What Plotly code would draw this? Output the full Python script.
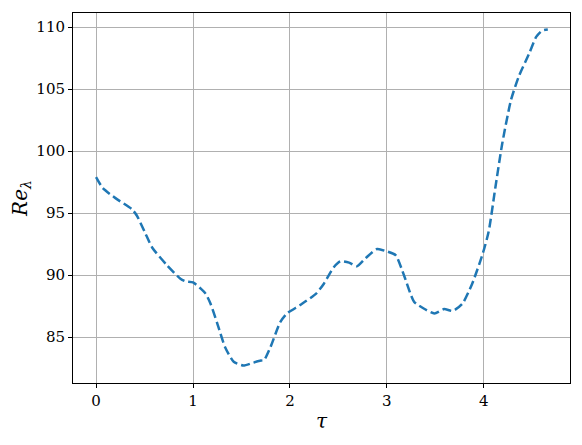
import plotly.graph_objects as go

tau = [0.00, 0.07, 0.20, 0.37, 0.42, 0.50, 0.58, 0.73, 0.87, 0.92, 1.00, 1.08, 1.13, 1.18,
       1.25, 1.33, 1.42, 1.52, 1.61, 1.70, 1.73, 1.80, 1.90, 1.97, 2.11, 2.27, 2.35, 2.45,
       2.52, 2.61, 2.69, 2.78, 2.90, 3.00, 3.09, 3.18, 3.28, 3.38, 3.49, 3.59, 3.68, 3.78,
       3.88, 3.99, 4.05, 4.12, 4.19, 4.28, 4.36, 4.47, 4.54, 4.60, 4.66]
re_lambda = [97.9, 97.0, 96.2, 95.3, 94.8, 93.5, 92.2, 90.8, 89.7, 89.5, 89.4, 88.9, 88.5, 87.7,
             86.1, 84.2, 83.0, 82.7, 82.9, 83.1, 83.1, 84.2, 86.2, 86.9, 87.6, 88.5, 89.3, 90.6,
             91.1, 91.0, 90.7, 91.35, 92.1, 91.9, 91.6, 89.9, 87.85, 87.3, 86.9, 87.25, 87.1, 87.7,
             89.3, 91.75, 93.5, 97.1, 100.6, 104.1, 106.0, 107.9, 109.2, 109.7, 109.8]

x_ticks = [0, 1, 2, 3, 4]
y_ticks = [85, 90, 95, 100, 105, 110]

fig = go.Figure()
fig.add_trace(go.Scatter(
    x=tau, y=re_lambda, mode="lines",
    line=dict(color="#1f77b4", width=2.5, dash="9px,4px", shape="spline", smoothing=0.6),
    showlegend=False,
))

font_family = "DejaVu Serif, Liberation Serif, serif"
axis_common = dict(
    showgrid=True, gridcolor="#b0b0b0", gridwidth=1,
    showline=True, linecolor="black", linewidth=1, mirror=True,
    ticks="outside", ticklen=4, tickcolor="black", tickwidth=1,
    zeroline=False, automargin=False,
    tickfont=dict(family=font_family, size=15, color="black"),
)

# the page body adds an 8px offset; margins compensate so the plot box lands at 73..570 x 13..383
fig.update_layout(
    width=582, height=445,
    margin=dict(l=65, r=20, t=5, b=70),
    paper_bgcolor="white", plot_bgcolor="white",
    font=dict(family=font_family, color="black"),
    xaxis=dict(range=[-0.238, 4.889], tickvals=x_ticks, ticktext=[str(v) for v in x_ticks],
               title=dict(text="<i>τ</i>", font=dict(size=20, family=font_family), standoff=4),
               **axis_common),
    yaxis=dict(range=[81.29, 111.13], tickvals=y_ticks, ticktext=[str(v) for v in y_ticks],
               title=dict(text="<i>Re</i><sub><i>λ</i></sub>", font=dict(size=20, family=font_family), standoff=8),
               **axis_common),
)

fig.write_html("out.html")
